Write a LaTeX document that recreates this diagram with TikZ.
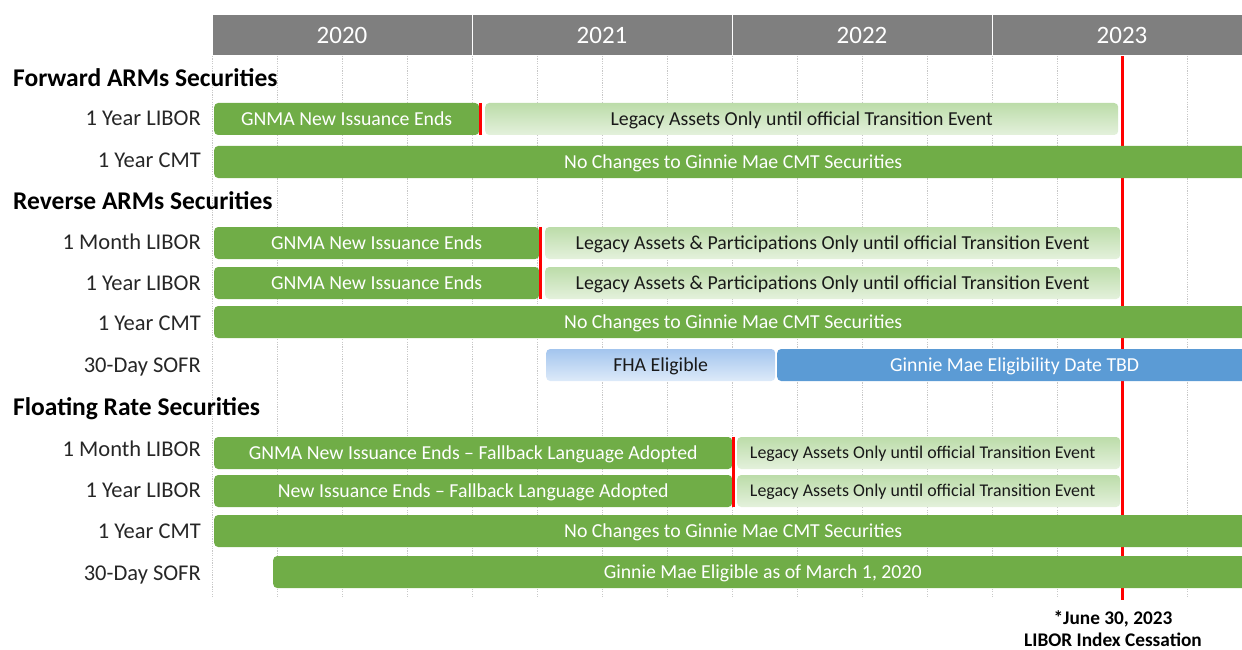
\documentclass[tikz,border=0pt]{standalone}
\usepackage{fontspec}
\setmainfont{Carlito}
\definecolor{gnmagreen}{HTML}{70AD47}
\definecolor{lgtop}{HTML}{BCDCA9}
\definecolor{lgbot}{HTML}{E4F1DC}
\definecolor{lbtop}{HTML}{A3C5EE}
\definecolor{lbbot}{HTML}{DDEAF9}
\definecolor{tbdblue}{HTML}{5B9BD5}
\definecolor{hdrgray}{HTML}{7F7F7F}
\definecolor{gridgray}{HTML}{C8C8C8}
\definecolor{cessred}{HTML}{FF0000}
\newcommand\timebar[6]{%
  \node[#5, minimum width={#3-#2}] (#1) at (#2,#4) {#6};}
\begin{document}
\begin{tikzpicture}[x=1pt,y=-1pt,
  yearcell/.style={fill=hdrgray, draw=white, line width=1pt, minimum height=41pt,
    minimum width=260pt, inner sep=0pt, text=white, text height=17pt, text depth=0pt,
    font=\fontsize{25}{27}\selectfont},
  section/.style={anchor=west, inner sep=0pt, font=\bfseries\fontsize{25.5}{27}\selectfont},
  rowlabel/.style={anchor=east, inner sep=0pt, text height=14.5pt, text depth=0pt,
    font=\fontsize{22.5}{24}\selectfont, text=black!85},
  barbase/.style={rounded corners=4pt, minimum height=32pt, anchor=west, inner sep=0pt,
    text height=13pt, text depth=0pt, font=\fontsize{19.8}{22}\selectfont},
  darkbar/.style={barbase, fill=gnmagreen, text=white},
  legacybar/.style={barbase, top color=lgtop, bottom color=lgbot, text=black!90},
  smalllegacy/.style={legacybar, text height=11.8pt, font=\fontsize{17.9}{20}\selectfont},
  fhabar/.style={barbase, top color=lbtop, bottom color=lbbot, text=black!90},
  tbdbar/.style={barbase, fill=tbdblue, text=white},
  gridline/.style={gridgray, line width=0.6pt, dash pattern=on 1.2pt off 1.2pt},
  sepline/.style={cessred, line width=3pt},
  cessline/.style={cessred, line width=3pt},
  note/.style={inner sep=0pt, text height=12.5pt, text depth=0pt,
    font=\bfseries\fontsize{19.3}{21}\selectfont}]
\useasboundingbox (0,0) rectangle (1242,650);
\clip (0,0) rectangle (1242,650);

% quarter grid
\foreach \q in {0,...,15}
  \draw[gridline] (212+65*\q,56) -- (212+65*\q,597);

% LIBOR cessation marker, behind the bars
\coordinate (cesstop) at (1122.5,56);
\coordinate (cessbot) at (1122.5,600);
\draw[cessline] (cesstop) -- (cessbot);

% year header
\node[yearcell] (y2020) at (342,35.5) {2020};
\node[yearcell] (y2021) at (602,35.5) {2021};
\node[yearcell] (y2022) at (862,35.5) {2022};
\node[yearcell] (y2023) at (1122,35.5) {2023};

% section titles
\node[section] (secfwd) at (13,78) {Forward ARMs Securities};
\node[section] (secrev) at (13,201) {Reverse ARMs Securities};
\node[section] (secflt) at (13,409) {Floating Rate Securities};

% row labels
\node[rowlabel] (lf1) at (201,118) {1 Year LIBOR};
\node[rowlabel] (lf2) at (201,160) {1 Year CMT};
\node[rowlabel] (lr1) at (201,242) {1 Month LIBOR};
\node[rowlabel] (lr2) at (201,283) {1 Year LIBOR};
\node[rowlabel] (lr3) at (201,323) {1 Year CMT};
\node[rowlabel] (lr4) at (201,365) {30-Day SOFR};
\node[rowlabel] (ll1) at (201,449) {1 Month LIBOR};
\node[rowlabel] (ll2) at (201,490) {1 Year LIBOR};
\node[rowlabel] (ll3) at (201,531) {1 Year CMT};
\node[rowlabel] (ll4) at (201,573) {30-Day SOFR};

% forward ARMs
\timebar{fa}{214}{479}{119}{darkbar}{GNMA New Issuance Ends}
\timebar{fb}{485}{1118}{119}{legacybar}{Legacy Assets Only until official Transition Event}
\timebar{fc}{214}{1252}{162}{darkbar}{No Changes to Ginnie Mae CMT Securities}
\draw[sepline] ([xshift=1.5pt]fa.north east) -- ([xshift=1.5pt]fa.south east);

% reverse ARMs
\timebar{ra}{214}{539}{243}{darkbar}{GNMA New Issuance Ends}
\timebar{rb}{545}{1120}{243}{legacybar}{Legacy Assets \& Participations Only until official Transition Event}
\timebar{rc}{214}{539}{283}{darkbar}{GNMA New Issuance Ends}
\timebar{rd}{545}{1120}{283}{legacybar}{Legacy Assets \& Participations Only until official Transition Event}
\timebar{re}{214}{1252}{322}{darkbar}{No Changes to Ginnie Mae CMT Securities}
\timebar{rf}{546}{775}{365}{fhabar}{FHA Eligible}
\timebar{rg}{777}{1252}{365}{tbdbar}{Ginnie Mae Eligibility Date TBD}
\draw[sepline] ([xshift=1.5pt]ra.north east) -- ([xshift=1.5pt]rc.south east);

% floating rate
\timebar{la}{214}{732}{453}{darkbar}{GNMA New Issuance Ends -- Fallback Language Adopted}
\timebar{lb}{737}{1120}{453}{smalllegacy}{\hspace{-12pt}Legacy Assets Only until official Transition Event}
\timebar{lc}{214}{732}{491}{darkbar}{New Issuance Ends -- Fallback Language Adopted}
\timebar{ld}{737}{1120}{491}{smalllegacy}{\hspace{-12pt}Legacy Assets Only until official Transition Event}
\timebar{le}{214}{1252}{531}{darkbar}{No Changes to Ginnie Mae CMT Securities}
\timebar{lf}{273}{1252}{572}{darkbar}{Ginnie Mae Eligible as of March 1, 2020}
\draw[sepline] ([xshift=1.5pt]la.north east) -- ([xshift=1.5pt]lc.south east);

% cessation note
\node[note] (cessdate) at (1113,618) {*June 30, 2023};
\node[note] (cesstext) at (1113,640) {LIBOR Index Cessation};
\end{tikzpicture}
\end{document}
